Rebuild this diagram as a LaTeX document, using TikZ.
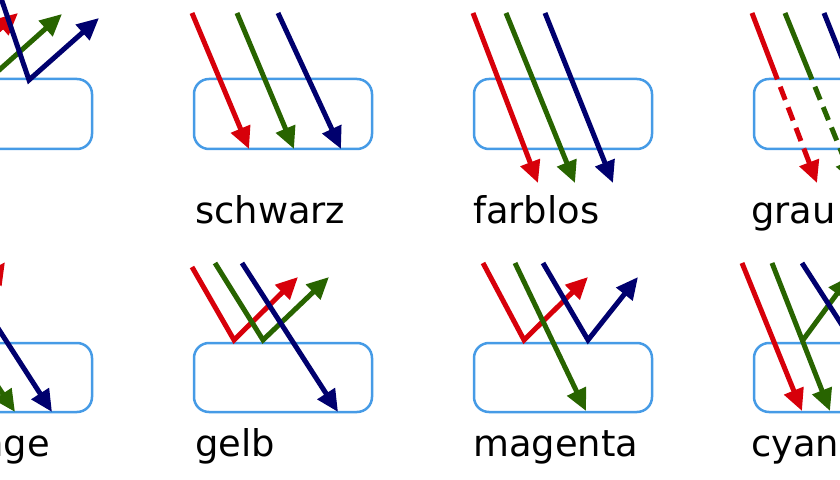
\documentclass[tikz,border=0pt]{standalone}
\usepackage{fontspec}
\setmainfont{DejaVu Sans}
\usetikzlibrary{arrows.meta,calc}
\definecolor{cR}{RGB}{215,0,10}
\definecolor{cG}{RGB}{40,100,0}
\definecolor{cB}{RGB}{0,0,110}
\definecolor{cBox}{RGB}{70,155,230}
\begin{document}
\begin{tikzpicture}[x=1bp,y=-1bp,
  ray/.style={line width=5bp,-{Triangle[length=22bp,width=20bp]}},
  rayn/.style={line width=5bp},
  glass/.style={draw=cBox,line width=2.5bp,rounded corners=15bp},
  lbl/.style={font=\fontsize{37}{40}\selectfont,anchor=base west,inner sep=0}]
\useasboundingbox (0,0) rectangle (840,480);
\clip (0,0) rectangle (840,480);
% boxes
\foreach \x in {-86,194,474,754}{
  \draw[glass] (\x,79) rectangle ++(178,70);
  \draw[glass] (\x,343) rectangle ++(178,69);
}
% top panel 1 (reflects all)
\draw[ray,cR] (-100,-40) -- (-58,80) -- (18,13);
\draw[ray,cG] (-55,-40) -- (-12,80) -- (62,14);
\draw[ray,cB] (-12,-40) -- (29,80) -- (99,18);
% schwarz
\draw[ray,cR] (192,13) -- (249,149);
\draw[ray,cG] (237,13) -- (294,149);
\draw[ray,cB] (278,13) -- (341,149);
\node[lbl] (t2) at (195,224) {schwarz};
% farblos
\draw[ray,cR] (473,13) -- (538,183);
\draw[ray,cG] (506,13) -- (575,183);
\draw[ray,cB] (545,13) -- (613,183);
\node[lbl] (t3) at (473,224) {farblos};
% grau
\begin{scope}[shift={(279,0)}]
\foreach \c/\a/\b in {cR/473/538,cG/506/575,cB/545/613}{
  \coordinate (s) at (\a,13);
  \coordinate (e) at (\b,183);
  \draw[rayn,\c] (s) -- ($(s)!0.39!(e)$);
  \draw[rayn,\c,dash pattern=on 14bp off 8bp,dash phase=-8bp] ($(s)!0.39!(e)$) -- ($(s)!0.80!(e)$);
  \draw[ray,\c] ($(s)!0.80!(e)$) -- (e);
}
\end{scope}
\node[lbl] (t4) at (751,224) {grau};
% orange
\draw[ray,cR] (-100,263) -- (-48,340) -- (5,262);
\draw[ray,cG] (-85,263) -- (15,412);
\draw[ray,cB] (-44,263) -- (52,412);
\node[lbl,anchor=base east] (t5) at (50,456) {orange};
% gelb
\draw[ray,cR] (192,267) -- (234,340) -- (298,277);
\draw[ray,cG] (215,263) -- (263,340) -- (329,277);
\draw[ray,cB] (242,263) -- (338,412);
\node[lbl] (t6) at (195,456) {gelb};
% magenta
\draw[ray,cR] (483,263) -- (524,340) -- (588,277);
\draw[ray,cG] (515,263) -- (586,411);
\draw[ray,cB] (543,263) -- (588,340) -- (638,277);
\node[lbl] (t7) at (473,456) {magenta};
% cyan
\draw[ray,cR] (742,263) -- (802,411);
\draw[ray,cG] (772,263) -- (830,411);
\draw[ray,cG] (803,340) -- (850,276);
\draw[ray,cB] (802,263) -- (898,412);
\node[lbl] (t8) at (751,456) {cyan};
\end{tikzpicture}
\end{document}
